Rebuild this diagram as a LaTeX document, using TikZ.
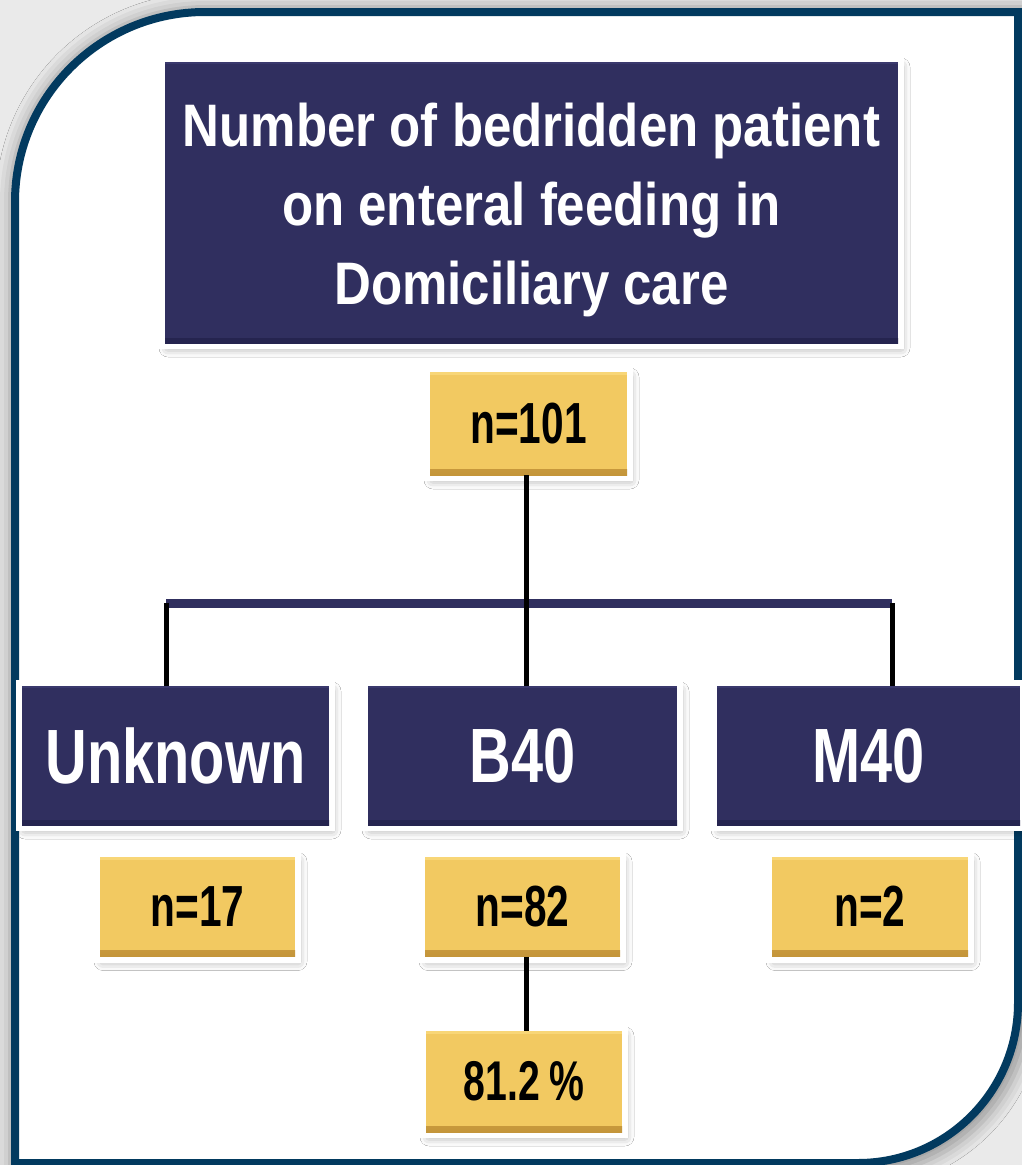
\documentclass[tikz,border=0pt]{standalone}
\usepackage{fontspec}
\setmainfont{Liberation Sans}
\newfontfamily\headfont{Liberation Sans}[FakeStretch=0.85]
\newfontfamily\groupfont{Liberation Sans}[FakeStretch=0.75]
\newfontfamily\countfont{Liberation Sans}[FakeStretch=0.70]
\usetikzlibrary{shadows.blur}

\definecolor{navy}{HTML}{302F5F}
\definecolor{navydark}{HTML}{25244F}
\definecolor{navylight}{HTML}{3A396D}
\definecolor{ybody}{HTML}{F2C961}
\definecolor{yedge}{HTML}{C4953A}
\definecolor{ylight}{HTML}{F8D677}
\definecolor{framecol}{HTML}{023A5F}
\definecolor{pagegray}{HTML}{EAEAEA}

\tikzset{
  boxshadow/.style={blur shadow={shadow xshift=3pt, shadow yshift=-5pt,
      shadow blur radius=9pt, shadow opacity=40}},
  whiterim/.style={preaction={draw=white, line width=12pt}},
  navybox/.style={boxshadow, whiterim, fill=navy, inner sep=0pt,
    text=white, align=center,
    path picture={
      \fill[top color=navy, bottom color=navydark]
        ([yshift=5pt]path picture bounding box.south west)
        rectangle (path picture bounding box.south east);
      \fill[navylight] (path picture bounding box.north west)
        rectangle ([yshift=-2pt]path picture bounding box.north east);
    }},
  yelbox/.style={boxshadow, whiterim, fill=ybody, inner sep=0pt,
    text=black, minimum width=195pt, minimum height=100pt,
    font=\countfont\bfseries\fontsize{58}{60}\selectfont,
    path picture={
      \fill[top color=ybody, bottom color=yedge]
        ([yshift=6pt]path picture bounding box.south west)
        rectangle (path picture bounding box.south east);
      \fill[ylight] (path picture bounding box.north west)
        rectangle ([yshift=-3pt]path picture bounding box.north east);
    }},
  groupbox/.style={navybox, minimum width=307pt, minimum height=139pt,
    font=\groupfont\bfseries\fontsize{77}{80}\selectfont},
  link/.style={draw=black, line width=5pt},
  crossbar/.style={draw=navy, line width=9pt},
  frameline/.style={draw=framecol, line width=8pt, line join=miter}
}

\begin{document}
\begin{tikzpicture}[x=1pt, y=-1pt]
  \useasboundingbox (0,0) rectangle (1022,1165);
  \clip (0,0) rectangle (1022,1165);

  % page background and the soft halo round the panel
  \fill[pagegray] (0,0) rectangle (1022,1165);
  \path[blur shadow={shadow xshift=0pt, shadow yshift=0pt,
      shadow blur radius=14pt, shadow opacity=35}]
    (10,1175) -- (10,202) arc[start angle=180, end angle=270, radius=195]
    -- (1030,7) -- (1030,1003) arc[start angle=0, end angle=90, radius=172]
    -- (858,1175) -- cycle;
  % the panel itself
  \fill[white]
    (15,1163) -- (15,202) arc[start angle=180, end angle=270, radius=190]
    -- (1018,12) -- (1018,1003) arc[start angle=0, end angle=90, radius=160]
    -- (858,1163) -- cycle;
  \draw[frameline]
    (15,1163) -- (15,202) arc[start angle=180, end angle=270, radius=190]
    -- (1018,12) -- (1018,1003) arc[start angle=0, end angle=90, radius=160]
    -- (858,1163) -- cycle;

  % title
  \node[navybox, minimum width=733pt, minimum height=281pt,
        font=\headfont\bfseries\fontsize{60}{79}\selectfont]
    (title) at (531.5,202.5)
    {\raisebox{0pt}[\dimexpr\height+14pt\relax][\depth]{%
      \begin{tabular}{@{}c@{}}
      Number of bedridden patient\\on enteral feeding in\\Domiciliary care
      \end{tabular}}};

  % total count
  \node[yelbox, minimum width=197pt, minimum height=103pt]
    (total) at (528.5,423.5) {n=101};

  % groups
  \node[groupbox] (unk) at (175.5,755.5) {Unknown};
  \node[groupbox, minimum width=309pt] (b40) at (522.5,755.5) {B40};
  \node[groupbox, minimum width=303pt] (m40) at (868.5,755.5) {M40};

  % group counts
  \node[yelbox] (n17) at (197.5,906.5) {n=17};
  \node[yelbox] (n82) at (522.5,906.5) {n=82};
  \node[yelbox, minimum width=196pt] (n2) at (870,906.5) {n=2};

  % share of B40
  \node[yelbox, minimum width=196pt, minimum height=101pt,
        font=\countfont\bfseries\fontsize{56}{60}\selectfont]
    (pct) at (524,1081.5) {81.2\,\%};

  % tree connectors
  \coordinate (barL) at (166,603);
  \coordinate (barR) at (892,603);
  \draw[crossbar] (barL) -- (barR);
  \draw[link] (barL) -- (barL |- unk.north);
  \draw[link] (barR) -- (barR |- m40.north);
  \draw[link] ([xshift=-2pt]total.south) -- ([xshift=-2pt]total.south |- b40.north);
  \draw[link] ([xshift=4pt]n82.south) -- ([xshift=4pt]n82.south |- pct.north);
\end{tikzpicture}
\end{document}
